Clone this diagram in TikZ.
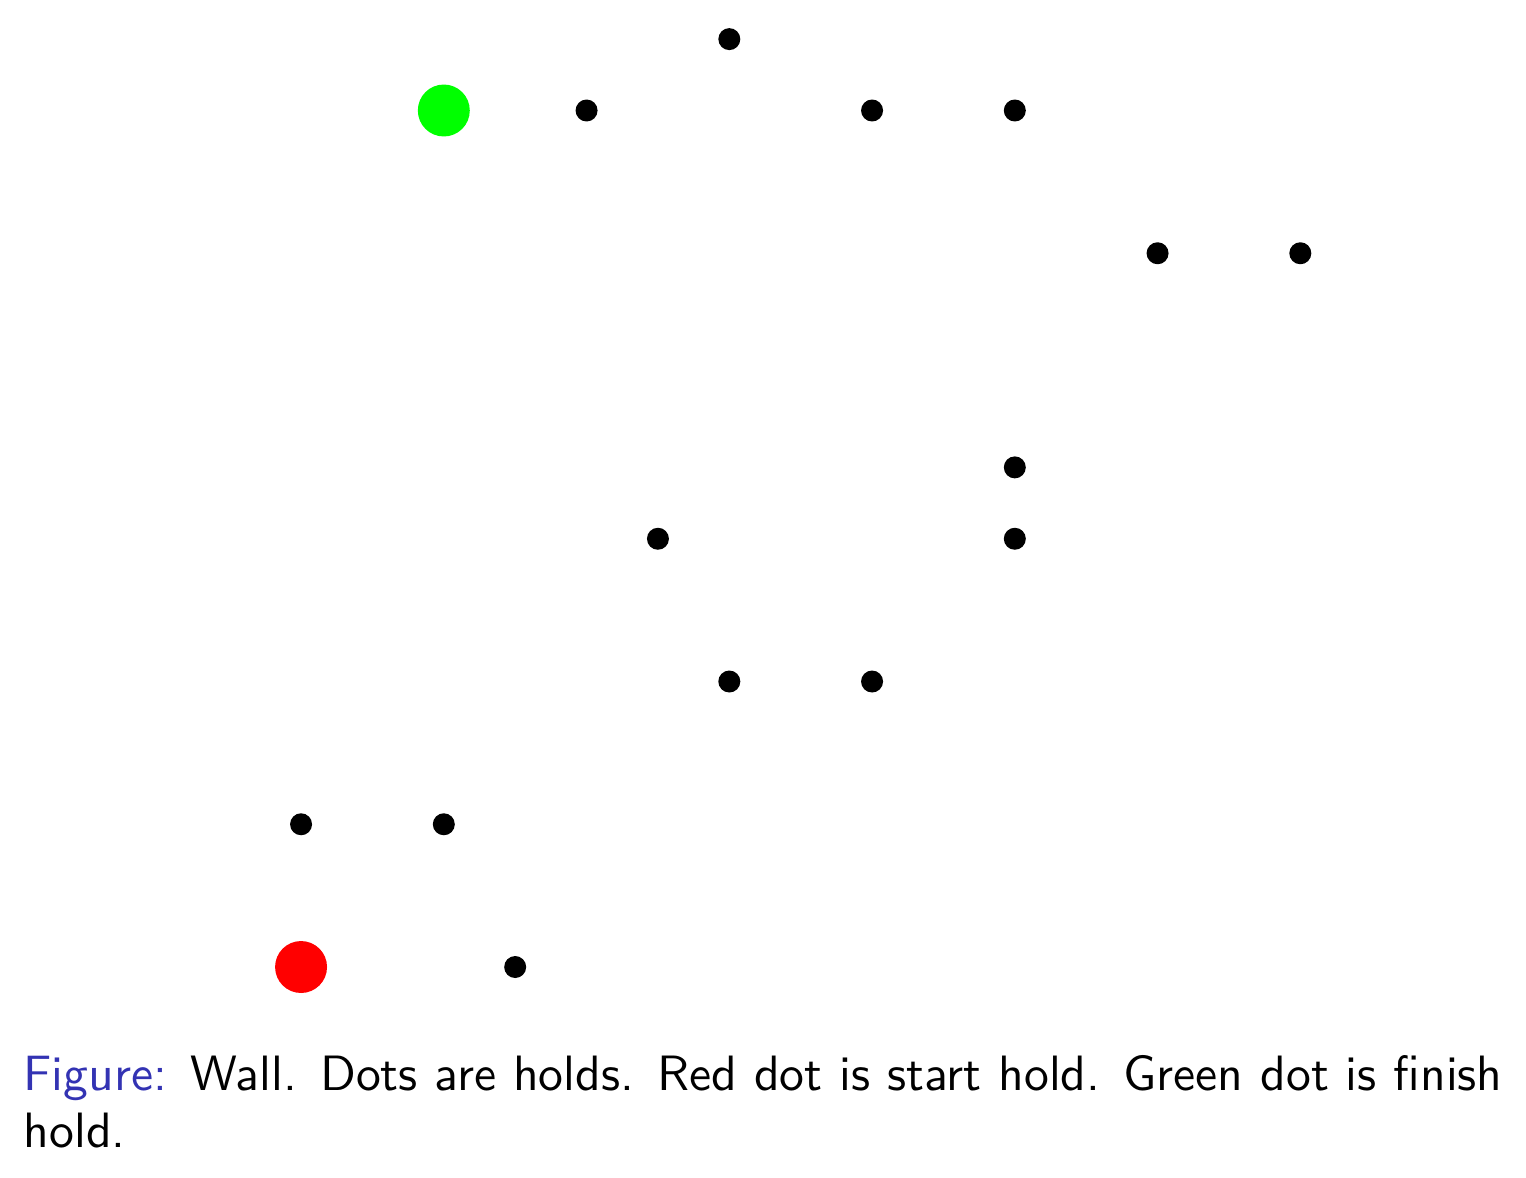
\documentclass[tikz,border=0pt]{standalone}
\usepackage{xcolor}
\usepackage{tikz}
\usetikzlibrary{positioning}
\definecolor{capblue}{RGB}{51,51,179}
\tikzset{
  Hold/.style={circle, fill=black, inner sep=0pt, minimum size=0.154cm},
  Start/.style={circle, fill=red, inner sep=0pt, minimum size=0.364cm},
  Finish/.style={circle, fill=green, inner sep=0pt, minimum size=0.364cm},
  Cap/.style={anchor=base west, align=justify, inner sep=0pt,
              text width=10.36cm, font=\sffamily\fontsize{9.9}{11.36}\selectfont}
}
\begin{document}
\begin{tikzpicture}
  \useasboundingbox (-2.109,-1.471) rectangle (8.581,6.774);
  % start and finish
  \node[Start] (s) at (0,0) {};
  \node[Finish] (f) at (1,6) {};
  % holds
  \node[Hold] (h1) at (1.5,0) {};
  \node[Hold] (h2) at (0,1) {};
  \node[Hold] (h3) at (1,1) {};
  \node[Hold] (h4) at (3,2) {};
  \node[Hold] (h5) at (4,2) {};
  \node[Hold] (h6) at (2.5,3) {};
  \node[Hold] (h7) at (5,3) {};
  \node[Hold] (h8) at (5,3.5) {};
  \node[Hold] (h9) at (6,5) {};
  \node[Hold] (h10) at (7,5) {};
  \node[Hold] (h11) at (2,6) {};
  \node[Hold] (h12) at (4,6) {};
  \node[Hold] (h13) at (5,6) {};
  \node[Hold] (h14) at (3,6.5) {};
  % caption
  \node[Cap] (cap) at (-1.95,-0.862) {\textcolor{capblue}{Figure:} Wall. Dots are holds. Red dot is start hold. Green dot is finish hold.};
\end{tikzpicture}
\end{document}
